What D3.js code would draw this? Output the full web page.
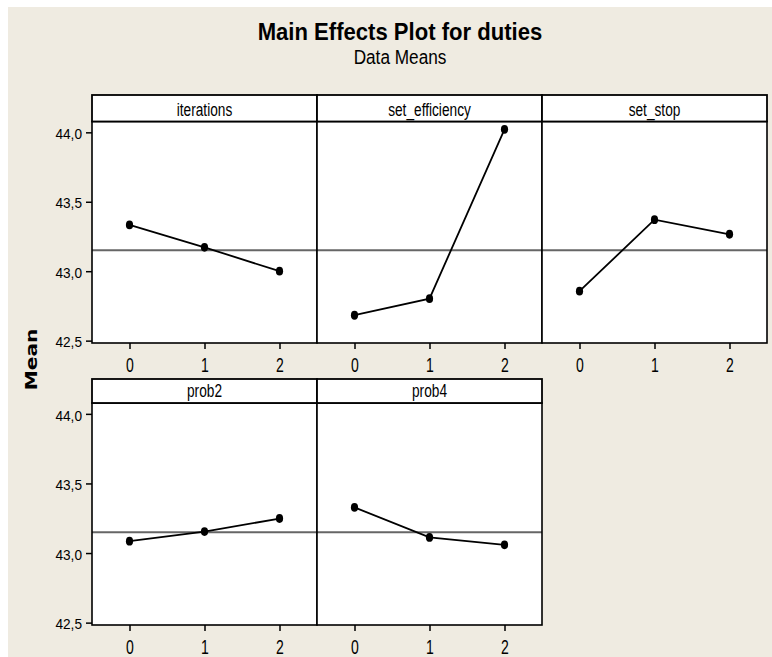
<!DOCTYPE html>
<html>
<head>
<meta charset="utf-8">
<script src="https://cdn.jsdelivr.net/npm/d3@7"></script>
<style>
  body { margin: 0; background: #ffffff; }
  svg { display: block; }
</style>
</head>
<body>
<script>
// Factor names, levels and the mean response at each level
const factorNames = ["iterations", "set_efficiency", "set_stop", "prob2", "prob4"];
const levels = [0, 1, 2];
const iterationsMeans    = [43.333, 43.172, 43.000];
const setEfficiencyMeans = [42.683, 42.802, 44.022];
const setStopMeans       = [42.856, 43.371, 43.266];
const prob2Means         = [43.085, 43.154, 43.248];
const prob4Means         = [43.328, 43.112, 43.059];
const grandMean = 43.15;
const yTicks = [42.5, 43.0, 43.5, 44.0];
const titleText = "Main Effects Plot for duties";
const subtitleText = "Data Means";
const yLabelText = "Mean";

const seriesByFactor = [iterationsMeans, setEfficiencyMeans, setStopMeans, prob2Means, prob4Means];

const W = 772, H = 657;
const svg = d3.select("body").append("svg").attr("width", W).attr("height", H);

// page background
svg.append("rect").attr("width", W).attr("height", H).attr("fill", "#ffffff");
svg.append("rect").attr("x", 8).attr("y", 7).attr("width", W - 8).attr("height", H - 7).attr("fill", "#efebe1");

// compress text horizontally to a fraction of its natural width
function squeeze(sel, k) {
  sel.each(function () {
    const w = this.getComputedTextLength();
    this.setAttribute("textLength", (w * k).toFixed(2));
    this.setAttribute("lengthAdjust", "spacingAndGlyphs");
  });
}

const fontMain = "'Liberation Sans', Arial, sans-serif";

// titles
svg.append("text").attr("x", 400).attr("y", 40).attr("text-anchor", "middle")
  .style("font-family", fontMain).style("font-weight", "bold").style("font-size", "24px")
  .attr("fill", "#000").text(titleText).call(squeeze, 0.92);
svg.append("text").attr("x", 400).attr("y", 64).attr("text-anchor", "middle")
  .style("font-family", fontMain).style("font-size", "20px")
  .attr("fill", "#000").text(subtitleText).call(squeeze, 0.86);

// y-axis label
svg.append("text").attr("transform", "translate(37,359.5) rotate(-90)").attr("text-anchor", "middle")
  .style("font-family", "'DejaVu Sans', Verdana, sans-serif").style("font-weight", "bold").style("font-size", "15.5px")
  .attr("fill", "#000").text(yLabelText).call(squeeze, 1.3);

// panel grid geometry
const colX = [92, 317, 542];
const panelW = 225;
const rows = [
  { hTop: 95, pTop: 121.5, pBot: 343 },
  { hTop: 379, pTop: 403, pBot: 625 }
];
const yDomain = [42.483, 44.078];
const fmt = v => d3.format(".1f")(v).replace(".", ",");

factorNames.forEach((name, i) => {
  const r = rows[Math.floor(i / 3)];
  const c = i % 3;
  const x0 = colX[c];
  const x = d3.scaleLinear().domain([-0.5, 2.5]).range([x0, x0 + panelW]);
  const y = d3.scaleLinear().domain(yDomain).range([r.pBot, r.pTop]);
  const g = svg.append("g");

  // plot area
  g.append("rect").attr("x", x0).attr("y", r.pTop).attr("width", panelW).attr("height", r.pBot - r.pTop)
    .attr("fill", "#ffffff");

  // reference line at the overall mean
  g.append("line").attr("x1", x0).attr("x2", x0 + panelW)
    .attr("y1", y(grandMean)).attr("y2", y(grandMean))
    .attr("stroke", "#666666").attr("stroke-width", 2);

  // level means
  const pts = levels.map((lv, j) => ({ lv, v: seriesByFactor[i][j] }));
  g.append("path").datum(pts)
    .attr("d", d3.line().x(d => x(d.lv)).y(d => y(d.v)))
    .attr("fill", "none").attr("stroke", "#000").attr("stroke-width", 1.8);
  g.selectAll("ellipse").data(pts).enter().append("ellipse")
    .attr("cx", d => x(d.lv)).attr("cy", d => y(d.v))
    .attr("rx", 3.6).attr("ry", 4.4).attr("fill", "#000");

  // panel frame
  g.append("rect").attr("x", x0).attr("y", r.pTop).attr("width", panelW).attr("height", r.pBot - r.pTop)
    .attr("fill", "none").attr("stroke", "#000").attr("stroke-width", 1.6);

  // strip header
  g.append("rect").attr("x", x0).attr("y", r.hTop).attr("width", panelW).attr("height", r.pTop - r.hTop)
    .attr("fill", "#ffffff").attr("stroke", "#000").attr("stroke-width", 1.8);
  g.append("text").attr("x", x0 + panelW / 2).attr("y", r.pTop - 6).attr("text-anchor", "middle")
    .style("font-family", fontMain).style("font-size", "18px").attr("fill", "#000")
    .text(name).call(squeeze, 0.76);

  // x axis
  const xa = g.append("g").attr("transform", `translate(0,${r.pBot})`)
    .call(d3.axisBottom(x).tickValues(levels).tickSize(6).tickPadding(9).tickFormat(d3.format("d")));
  xa.select(".domain").remove();
  xa.selectAll("line").attr("stroke", "#000").attr("stroke-width", 1.5);
  xa.selectAll("text").style("font-family", fontMain).style("font-size", "20px").attr("fill", "#000")
    .call(squeeze, 0.7);

  // y axis on the first column only
  if (c === 0) {
    const ya = g.append("g").attr("transform", `translate(${x0},0)`)
      .call(d3.axisLeft(y).tickValues(yTicks).tickSize(6).tickPadding(4).tickFormat(fmt));
    ya.select(".domain").remove();
    ya.selectAll("line").attr("stroke", "#000").attr("stroke-width", 1.5);
    ya.selectAll("text").attr("dy", "0.4em").style("font-family", fontMain).style("font-size", "15.5px")
      .attr("fill", "#000").call(squeeze, 0.88);
  }
});
</script>
</body>
</html>
